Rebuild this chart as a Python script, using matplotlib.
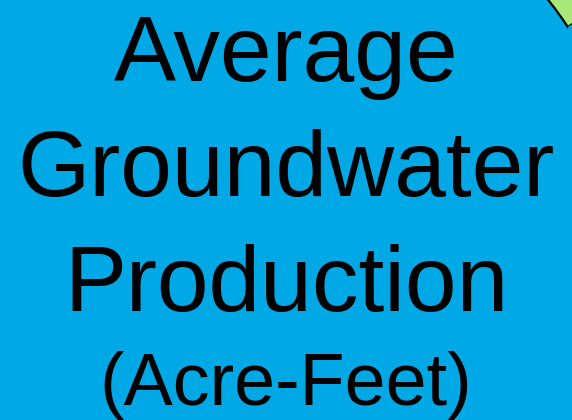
import matplotlib.pyplot as plt

# ring slices (the visible corner shows only the edge of the green slice)
slice_names = ["Green", "Blue"]
slice_values = [12, 88]
slice_colors = ["#a8e878", "#00a8e6"]

title_lines = ["Average", "Groundwater", "Production"]
unit_line = "(Acre-Feet)"

plt.rcParams['font.family'] = ['Liberation Sans', 'DejaVu Sans']

fig = plt.figure(figsize=(5.72, 4.2), dpi=100)
fig.patch.set_facecolor("#00a8e6")
ax = fig.add_axes([0, 0, 1, 1])
ax.set_facecolor("#00a8e6")

wedges, _ = ax.pie(slice_values, colors=slice_colors, startangle=33,
                   counterclock=True, radius=1.0,
                   wedgeprops=dict(width=0.4, linewidth=1.6))
wedges[0].set_edgecolor("black")
wedges[1].set_edgecolor("none")

# show just the centre of the donut
ax.set_xlim(-286 / 560, 286 / 560)
ax.set_ylim(-210 / 560, 210 / 560)
ax.set_aspect("auto")
ax.axis("off")

for line, base in zip(title_lines, [81, 196, 311]):
    fig.text(0.5, 1 - base / 420, line, ha="center", va="baseline",
             fontsize=67, color="black")
fig.text(0.5, 1 - 405 / 420, unit_line, ha="center", va="baseline",
         fontsize=53, color="black")

fig.savefig("out.png", dpi=100, facecolor=fig.get_facecolor())
